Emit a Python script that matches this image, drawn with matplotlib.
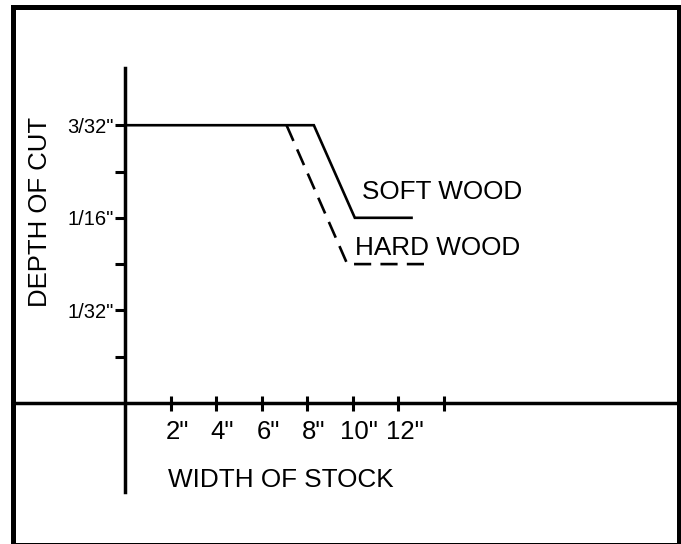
import matplotlib
matplotlib.use("Agg")
import matplotlib.pyplot as plt
from matplotlib.patches import Rectangle

plt.rcParams["font.family"] = ["Liberation Sans", "DejaVu Sans"]

# datos (pulgadas)
soft_x = [0, 8.3, 10.1, 12.65]
soft_y = [3/32, 3/32, 1/16, 1/16]
hard_x = [7.1, 9.77, 13.5]
hard_y = [3/32, 3/64, 3/64]

x_ticks = [2, 4, 6, 8, 10, 12, 14]
x_labels = ['2"', '4"', '6"', '8"', '10"', '12"', '']
y_major = [1/32, 1/16, 3/32]
y_labels = ['1/32"', '1/16"', '3/32"']
y_minor = [1/64, 3/64, 5/64]

fig = plt.figure(figsize=(6.81, 5.44), dpi=100)
ax = fig.add_axes([15/681, 1 - 492/544, (677 - 15)/681, (492 - 68)/544])

ax.plot(soft_x, soft_y, color="black", lw=1.9, solid_capstyle="butt", solid_joinstyle="miter")
ax.plot(hard_x, hard_y, color="black", lw=1.9, dashes=(6.5, 3.5), dash_capstyle="butt")

ax.set_xlim(-4.835, 24.26)
ax.set_ylim(-0.03004, 0.11306)

for s in ["top", "right"]:
    ax.spines[s].set_visible(False)
ax.spines["left"].set_position(("data", 0))
ax.spines["bottom"].set_position(("data", 0))
ax.spines["left"].set_linewidth(2.5)
ax.spines["bottom"].set_linewidth(2.5)

ax.set_yticks(y_major)
ax.set_yticklabels(y_labels, fontsize=14.5)
ax.set_yticks(y_minor, minor=True)
ax.tick_params(axis="y", which="both", direction="out", length=7.2, width=2.2, pad=1)

ax.set_xticks(x_ticks)
ax.tick_params(axis="x", which="major", direction="inout", length=10.8, width=2.2, labelbottom=False)
for x, lbl in zip(x_ticks, x_labels):
    ax.annotate(lbl, xy=(x, 0), xytext=(6.5, -36), textcoords="offset pixels",
                ha="center", va="baseline", fontsize=18.5)

ax.text(10.4, 0.0688, "SOFT WOOD", fontsize=18.8, ha="left", va="baseline")
ax.text(10.11, 0.0500, "HARD WOOD", fontsize=18.8, ha="left", va="baseline")

fig.text(40.5/681, 1 - 212/544, "DEPTH OF CUT", rotation=90, fontsize=18.5, ha="center", va="center")
fig.text(281/681, 1 - 487.3/544, "WIDTH OF STOCK", fontsize=18.8, ha="center", va="baseline")

fig.add_artist(Rectangle((12.5/681, 1 - 544.5/544), (679 - 12.5)/681, (544.5 - 6.5)/544,
                         transform=fig.transFigure, fill=False, lw=3.6, color="black"))

fig.savefig("out.png", dpi=100)
